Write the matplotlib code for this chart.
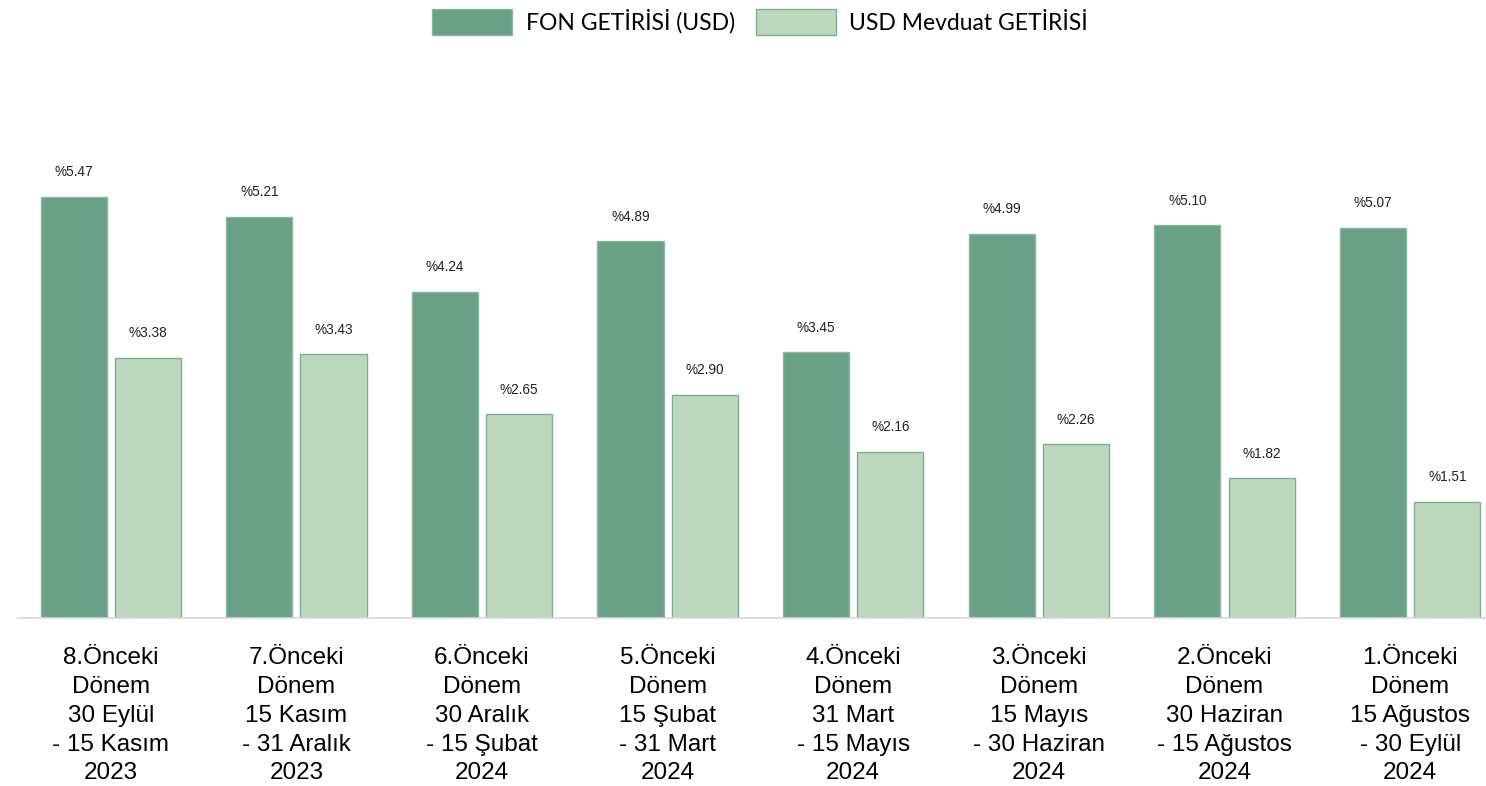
import matplotlib.pyplot as plt
import numpy as np

periods = [
    "8.Önceki\nDönem\n30 Eylül\n- 15 Kasım\n2023",
    "7.Önceki\nDönem\n15 Kasım\n- 31 Aralık\n2023",
    "6.Önceki\nDönem\n30 Aralık\n- 15 Şubat\n2024",
    "5.Önceki\nDönem\n15 Şubat\n- 31 Mart\n2024",
    "4.Önceki\nDönem\n31 Mart\n- 15 Mayıs\n2024",
    "3.Önceki\nDönem\n15 Mayıs\n- 30 Haziran\n2024",
    "2.Önceki\nDönem\n30 Haziran\n- 15 Ağustos\n2024",
    "1.Önceki\nDönem\n15 Ağustos\n- 30 Eylül\n2024",
]
fon_getirisi = [5.47, 5.21, 4.24, 4.89, 3.45, 4.99, 5.10, 5.07]
mevduat_getirisi = [3.38, 3.43, 2.65, 2.90, 2.16, 2.26, 1.82, 1.51]

dark = '#6BA088'
light = '#BDD7BC'

fig = plt.figure(figsize=(14.86, 7.86), dpi=100)
ax = fig.add_axes([0.0121, 0.2137, 0.9993, 0.6368])

x = np.arange(len(periods))
w = 0.356
b1 = ax.bar(x - 0.2, fon_getirisi, w, color=dark, edgecolor='#8DB89F', linewidth=1,
            label='FON GETİRİSİ (USD)')
b2 = ax.bar(x + 0.2, mevduat_getirisi, w, color=light, edgecolor='#7FAF93', linewidth=1,
            label='USD Mevduat GETİRİSİ')

for bars, vals in [(b1, fon_getirisi), (b2, mevduat_getirisi)]:
    for r, v in zip(bars, vals):
        ax.annotate(f'%{v:.2f}', (r.get_x() + r.get_width() / 2, v),
                    xytext=(0, 12.5), textcoords='offset points',
                    ha='center', va='bottom', fontsize=9.8, color='#222222',
                    family='Liberation Sans')

ax.set_xlim(-0.5, len(periods) - 0.5)
ax.set_ylim(0, 6.5)
ax.set_yticks([])
ax.set_xticks(x)
ax.set_xticklabels(periods, fontsize=17.5, family='Liberation Sans', linespacing=1.4)
ax.tick_params(axis='x', length=0, pad=21)
for s in ['top', 'right', 'left']:
    ax.spines[s].set_visible(False)
ax.spines['bottom'].set_color('#D9D9D9')
ax.spines['bottom'].set_linewidth(1.2)

fig.legend(loc='center', bbox_to_anchor=(0.5114, 0.972), ncol=2, frameon=False,
           prop={'family': 'Lato', 'size': 16.5}, handlelength=3.5, handleheight=1.4,
           columnspacing=0.9, handletextpad=0.6)

plt.savefig('out.png', dpi=100)
plt.close()
